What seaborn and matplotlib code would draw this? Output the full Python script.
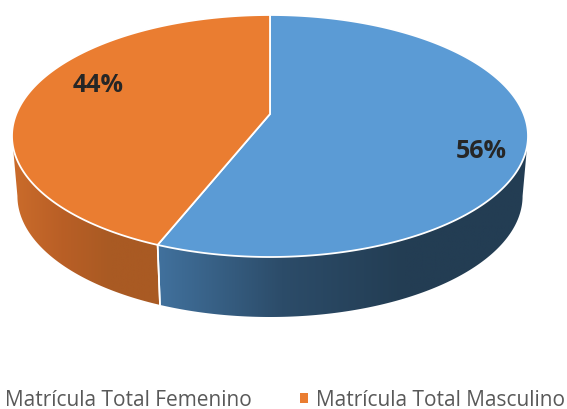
import numpy as np
import matplotlib
matplotlib.use("Agg")
import matplotlib.pyplot as plt
import seaborn as sns
from matplotlib.patches import Polygon, Patch
from matplotlib.colors import LinearSegmentedColormap

categories = ["Matrícula Total Femenino", "Matrícula Total Masculino"]
values = [56, 44]
labels = ["56%", "44%"]

sns.set_theme(style="white")
plt.rcParams['font.family'] = ['Open Sans', 'DejaVu Sans']

top_colors = ["#5B9BD5", "#EA7D31"]
side_colors = [["#41719D", "#2C4C69", "#233D53", "#233D53"],
               ["#CB6C2B", "#B95F26", "#A95A23", "#A95A23"]]

W, H = 567, 409
fig = plt.figure(figsize=(W / 100, H / 100), dpi=100)
ax = fig.add_axes([0, 0, 1, 1])
ax.set_xlim(0, W)
ax.set_ylim(H, 0)
ax.axis("off")

# perspective projection of the disc
cx, y0, A, B, k, depth, bscale = 270, 114, 253.7, 117.0, 0.1818, 60, 0.979

def pt(th, bottom=False):
    t = np.radians(th)
    u, v = np.cos(t), np.sin(t)
    d = 1 + k * v
    s = bscale if bottom else 1.0
    return cx + s * A * u / d, y0 - B * v / d + (depth if bottom else 0)

sil = np.degrees(np.arcsin(k))
front_lo, front_hi = 180 + sil, 360 - sil

total = sum(values)
angles = []
start = 90.0
for v in values:
    end = start - 360.0 * v / total
    angles.append((end, start))
    start = end

# side walls
for i, (s, e) in enumerate(angles):
    s0 = s % 360
    e0 = s0 + (e - s)
    segs = []
    for off in (0, 360):
        lo = max(s0 - off, front_lo)
        hi = min(e0 - off, front_hi)
        if hi > lo:
            segs.append((lo, hi))
    for lo, hi in segs:
        th = np.linspace(lo, hi, 200)
        tx, ty = pt(th)
        bx, by = pt(th[::-1], bottom=True)
        xs = np.concatenate([tx, bx])
        ys = np.concatenate([ty, by])
        poly = Polygon(np.column_stack([xs, ys]), closed=True, facecolor="none",
                       edgecolor="none")
        ax.add_patch(poly)
        cmap = LinearSegmentedColormap.from_list("g%d" % i, side_colors[i])
        grad = np.linspace(0, 1, 256).reshape(1, -1)
        im = ax.imshow(grad, cmap=cmap, aspect="auto",
                       extent=[xs.min(), xs.max(), ys.max(), ys.min()], zorder=1)
        im.set_clip_path(poly)
        for ang in (lo, hi):
            if front_lo < ang < front_hi:
                xa, ya = pt(ang)
                xb, yb = pt(ang, bottom=True)
                ax.plot([xa, xb], [ya, yb], color="white", lw=1.2, zorder=2)

ax.set_xlim(0, W)
ax.set_ylim(H, 0)

# top faces
for i, (s, e) in enumerate(angles):
    th = np.linspace(s, e, 300)
    xs, ys = pt(th)
    xs = np.concatenate([[cx], xs])
    ys = np.concatenate([[y0], ys])
    ax.add_patch(Polygon(np.column_stack([xs, ys]), closed=True,
                         facecolor=top_colors[i], edgecolor="white", lw=1.3, zorder=3))

label_pos = [(481, 152), (98, 86)]
for (x, y), t in zip(label_pos, labels):
    ax.text(x, y, t, ha="center", va="center", fontsize=18, fontweight="bold",
            color="#262626", zorder=4)

handles = [Patch(facecolor=c, edgecolor="none") for c in top_colors]
fig.legend(handles, categories, ncol=2, frameon=False, loc="center",
           bbox_to_anchor=(277 / W, 1 - 400 / H), fontsize=15,
           handlelength=0.385, handleheight=0.385, handletextpad=0.38,
           columnspacing=2.35, labelcolor="#595959")

fig.savefig("out.png", dpi=100)
